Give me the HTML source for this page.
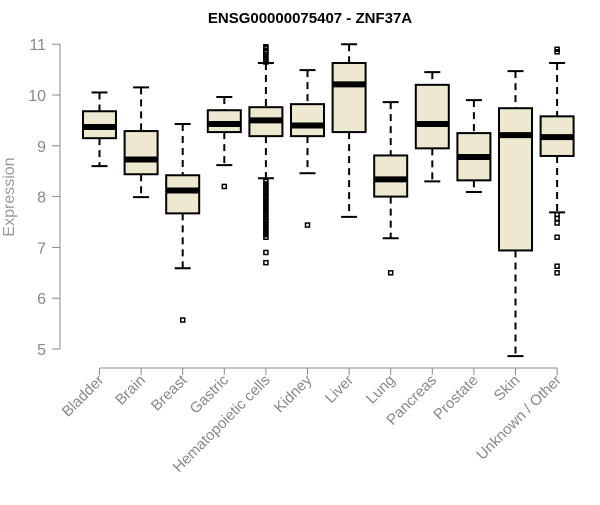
<!DOCTYPE html>
<html><head><meta charset="utf-8"><style>
body{margin:0;background:#fff}
svg{font-family:"Liberation Sans",Arial,sans-serif}
</style></head><body>
<svg id="chart" width="600" height="500">
<text x="310" y="23" text-anchor="middle" font-weight="bold" font-size="15">ENSG00000075407 - ZNF37A</text>
<text transform="translate(14,197) rotate(-90)" text-anchor="middle" font-size="16" fill="#999">Expression</text>
<g id="yaxis"></g>
<g id="xaxis"></g>
<g id="boxes"></g>
</svg>
<script>
const categories=["Bladder","Brain","Breast","Gastric","Hematopoietic cells","Kidney","Liver","Lung","Pancreas","Prostate","Skin","Unknown / Other"];
const whiskerLow=[8.6,7.99,6.59,8.62,8.36,8.46,7.6,7.18,8.3,8.09,4.86,7.69];
const q1=[9.15,8.44,7.67,9.27,9.19,9.19,9.27,8.0,8.95,8.32,6.94,8.8];
const medians=[9.37,8.73,8.12,9.43,9.5,9.4,10.21,8.34,9.43,8.78,9.21,9.17];
const q3=[9.68,9.29,8.42,9.7,9.76,9.82,10.63,8.81,10.2,9.25,9.74,9.58];
const whiskerHigh=[10.05,10.15,9.43,9.96,10.63,10.49,11.0,9.86,10.45,9.9,10.47,10.63];
const outliers=[[],[],[5.57],[8.2],
 [10.95,10.92,10.88,10.85,10.8,10.75,10.7,10.65,8.3,8.25,8.2,8.15,8.1,8.05,8.0,7.95,7.9,7.85,7.8,7.75,7.7,7.65,7.6,7.55,7.5,7.45,7.4,7.35,7.3,7.25,7.2,6.9,6.7],
 [7.44],[],[6.5],[],[],[],[10.9,10.85,7.65,7.57,7.48,7.2,6.63,6.5]];
const yTicks=[5,6,7,8,9,10,11];
const NS="http://www.w3.org/2000/svg";
const y=v=>349-(v-5)*50.8;
const x=i=>99.5+i*41.6;
function mk(tag,attrs,parent){const e=document.createElementNS(NS,tag);for(const k in attrs)e.setAttribute(k,attrs[k]);parent.appendChild(e);return e;}
const ya=document.getElementById('yaxis'),xa=document.getElementById('xaxis'),bx=document.getElementById('boxes');
mk('line',{x1:60,x2:60,y1:y(11),y2:y(5),stroke:'#888'},ya);
yTicks.forEach(t=>{mk('line',{x1:52,x2:60,y1:y(t),y2:y(t),stroke:'#888'},ya);
 const tx=mk('text',{x:46,y:y(t)+6,'text-anchor':'end','font-size':16,fill:'#888'},ya);tx.textContent=t;
 
 });
mk('line',{x1:x(0),x2:x(11),y1:368,y2:368,stroke:'#888'},xa);
categories.forEach((c,i)=>{
 mk('line',{x1:x(i),x2:x(i),y1:368,y2:375,stroke:'#888'},xa);
 const t=mk('text',{transform:`translate(${x(i)+5},381) rotate(-45)`,'text-anchor':'end','font-size':15,fill:'#888'},xa);t.textContent=c;
 
 
 const g=mk('g',{},bx);
 
 
 const cx=x(i),w=16.5;
 mk('line',{x1:cx,x2:cx,y1:y(whiskerHigh[i]),y2:y(q3[i]),stroke:'#000','stroke-width':2,'stroke-dasharray':'7,5'},g);
 mk('line',{x1:cx,x2:cx,y1:y(q1[i]),y2:y(whiskerLow[i]),stroke:'#000','stroke-width':2,'stroke-dasharray':'7,5'},g);
 mk('line',{x1:cx-8,x2:cx+8,y1:y(whiskerHigh[i]),y2:y(whiskerHigh[i]),stroke:'#000','stroke-width':2},g);
 mk('line',{x1:cx-8,x2:cx+8,y1:y(whiskerLow[i]),y2:y(whiskerLow[i]),stroke:'#000','stroke-width':2},g);
 mk('rect',{x:cx-w,y:y(q3[i]),width:2*w,height:y(q1[i])-y(q3[i]),fill:'#EDE8D0',stroke:'#000','stroke-width':2},g);
 mk('line',{x1:cx-w,x2:cx+w,y1:y(medians[i]),y2:y(medians[i]),stroke:'#000','stroke-width':6},g);
 outliers[i].forEach(v=>mk('rect',{x:cx-2,y:y(v)-2,width:4,height:4,fill:'none',stroke:'#000','stroke-width':1.5},g));
});
</script>
</body></html>
